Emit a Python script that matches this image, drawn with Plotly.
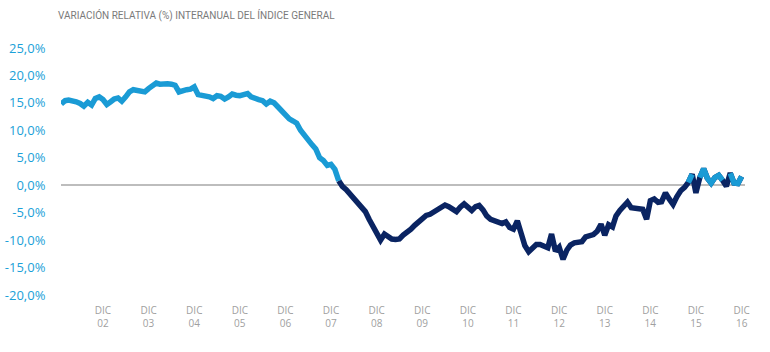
import plotly.graph_objects as go
import pandas as pd
import numpy as np

title = "VARIACIÓN RELATIVA (%) INTERANUAL DEL ÍNDICE GENERAL"

# Monthly interannual variation (%), Jan 2002 - Dec 2016
start_month = "2002-01-01"
values = [
    14.8, 15.4, 15.5, 15.4, 15.2, 14.9, 14.4, 15.1, 14.6, 15.8, 16.1, 15.6,   # 2002
    14.7, 15.2, 15.7, 15.9, 15.3, 16.1, 17.0, 17.4, 17.2, 17.0, 17.0, 17.6,   # 2003
    18.2, 18.6, 18.4, 18.5, 18.5, 18.4, 18.2, 17.0, 17.3, 17.4, 17.5, 17.9,   # 2004
    16.5, 16.4, 16.3, 16.1, 15.8, 16.3, 16.2, 15.7, 16.1, 16.6, 16.4, 16.3,   # 2005
    16.5, 16.7, 16.1, 15.7, 15.6, 15.4, 14.8, 15.3, 15.0, 14.3, 13.5, 12.8,   # 2006
    12.1, 11.7, 11.3, 10.0, 9.0, 8.2, 7.4, 6.6, 5.0, 4.5, 3.6, 3.8,           # 2007
    2.9, 0.8, -0.2, -0.8, -1.6, -2.4, -3.4, -4.2, -4.8, -6.2, -7.6, -9.0,     # 2008
    -10.0, -8.9, -9.4, -9.8, -9.9, -9.8, -9.1, -8.6, -8.0, -7.3, -6.7, -6.1,  # 2009
    -5.5, -5.3, -4.9, -4.3, -4.0, -3.6, -3.9, -4.4, -4.8, -4.0, -3.4, -4.0,   # 2010
    -4.6, -3.9, -3.7, -4.5, -5.6, -6.2, -6.4, -6.6, -7.0, -6.7, -7.7, -8.0,   # 2011
    -6.5, -8.8, -11.0, -12.1, -11.3, -10.8, -10.8, -11.1, -11.4, -8.9, -12.0, -11.3,  # 2012
    -13.5, -11.8, -10.9, -10.5, -10.4, -10.3, -9.4, -9.2, -9.0, -8.4, -7.1, -9.1,     # 2013
    -7.2, -7.6, -5.6, -4.6, -3.9, -3.1, -4.1, -4.2, -4.2, -4.4, -6.2, -2.8,   # 2014
    -2.5, -3.1, -3.0, -1.4, -2.5, -3.5, -2.1, -1.0, -0.4, 0.5, 2.0, -1.4,     # 2015
    1.4, 3.0, 1.3, 0.4, 1.4, 1.8, 0.9, -0.2, 2.2, 0.4, 0.3, 1.6,              # 2016
]
tick_years = list(range(2002, 2017))
y_ticks = [-20, -15, -10, -5, 0, 5, 10, 15, 20, 25]

dates = pd.date_range(start_month, periods=len(values), freq="MS")
vals = np.array(values, dtype=float)

first_neg = int(np.argmax(vals < 0))
light = np.where(vals >= 0, vals, np.nan)
dark = np.full_like(vals, np.nan)
dark[first_neg - 1:] = vals[first_neg - 1:]

LIGHT = "#1a9bd5"
DARK = "#0a2462"

fig = go.Figure()
fig.add_trace(go.Scatter(x=dates, y=dark, mode="lines",
                         line=dict(color=DARK, width=5.5),
                         connectgaps=False, hoverinfo="skip", showlegend=False))
fig.add_trace(go.Scatter(x=dates, y=light, mode="lines",
                         line=dict(color=LIGHT, width=5.5),
                         connectgaps=False, hoverinfo="skip", showlegend=False))

fig.update_layout(
    width=770, height=352,
    margin=dict(l=61, r=25, t=48, b=57),
    paper_bgcolor="white", plot_bgcolor="white",
    title=dict(text=title, x=58/770, xanchor="left", y=1 - 15/352, yanchor="middle",
               font=dict(family="Roboto, sans-serif", size=10, color="#7a7a7a")),
    xaxis=dict(
        range=["2001-12-30", "2016-12-28"],
        tickvals=[pd.Timestamp(f"{y}-12-01") for y in tick_years],
        ticktext=[f"DIC<br>{str(y)[2:]}" for y in tick_years],
        tickfont=dict(family="Open Sans, sans-serif", size=10, color="#a0a0a0"),
        ticks="outside", ticklen=6, tickcolor="rgba(0,0,0,0)",
        showgrid=False, zeroline=False, showline=False, automargin=False,
    ),
    yaxis=dict(
        range=[-20, 25],
        tickvals=y_ticks,
        ticktext=[f"{v:.1f}".replace(".", ",") + "%" for v in y_ticks],
        tickfont=dict(family="Open Sans, sans-serif", size=13, color="#1ba1d8"),
        ticks="outside", ticklen=12, tickcolor="rgba(0,0,0,0)",
        showgrid=False, zeroline=True, zerolinecolor="#bdbdbd", zerolinewidth=1.5,
        showline=False, automargin=False,
    ),
)

fig.write_html("out.html")
